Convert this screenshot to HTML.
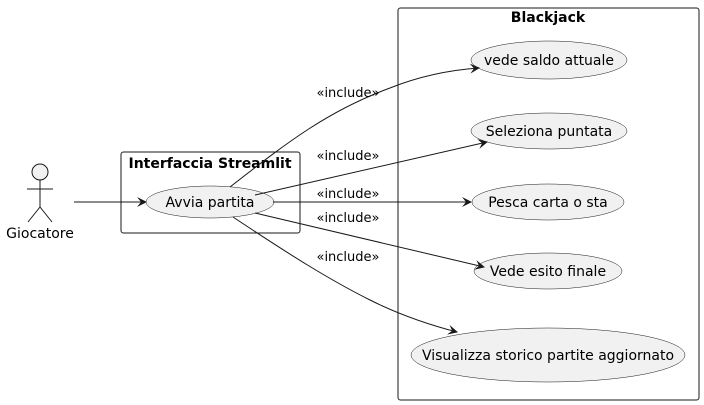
<!DOCTYPE html>
<html><head><meta charset="utf-8"><style>html,body{margin:0;padding:0;background:#fff}svg{display:block}text{font-family:"DejaVu Sans",sans-serif;fill:#000}</style></head>
<body>
<svg width="704" height="405" viewBox="0 0 704 405" xmlns="http://www.w3.org/2000/svg">
<defs><marker id="a" viewBox="0 0 10 10" refX="9" refY="5" markerWidth="10" markerHeight="10" orient="auto" markerUnits="userSpaceOnUse"><path d="M0,0 L10,5 L0,10 L4,5 Z" fill="#181818"/></marker></defs>
<rect x="121" y="152" width="179" height="81" rx="2.5" fill="none" stroke="#181818" stroke-width="1"/>
<text x="210" y="168" font-size="14" font-weight="bold" text-anchor="middle">Interfaccia Streamlit</text>
<rect x="398" y="8" width="301" height="392" rx="2.5" fill="none" stroke="#181818" stroke-width="1"/>
<text x="548" y="22" font-size="14" font-weight="bold" text-anchor="middle">Blackjack</text>
<circle cx="40" cy="172" r="8" fill="#f1f1f1" stroke="#181818"/>
<line x1="40" y1="180" x2="40" y2="207" stroke="#181818"/>
<line x1="27" y1="189" x2="53" y2="189" stroke="#181818"/>
<path d="M28,222 L40,207 L52,222" fill="none" stroke="#181818"/>
<text x="40" y="238" font-size="14" text-anchor="middle">Giocatore</text>
<line x1="74" y1="202" x2="146" y2="202" stroke="#181818" marker-end="url(#a)"/>
<ellipse cx="210" cy="202" rx="64" ry="16" fill="#f1f1f1" stroke="#181818" stroke-width="0.5"/>
<text x="210" y="207" font-size="14" text-anchor="middle">Avvia partita</text>
<ellipse cx="549" cy="60" rx="78" ry="19" fill="#f1f1f1" stroke="#181818" stroke-width="0.5"/>
<text x="549" y="65" font-size="14" text-anchor="middle">vede saldo attuale</text>
<ellipse cx="549" cy="131" rx="78" ry="18" fill="#f1f1f1" stroke="#181818" stroke-width="0.5"/>
<text x="549" y="136" font-size="14" text-anchor="middle">Seleziona puntata</text>
<ellipse cx="548" cy="202" rx="76" ry="18" fill="#f1f1f1" stroke="#181818" stroke-width="0.5"/>
<text x="548" y="207" font-size="14" text-anchor="middle">Pesca carta o sta</text>
<ellipse cx="548" cy="271" rx="74" ry="18" fill="#f1f1f1" stroke="#181818" stroke-width="0.5"/>
<text x="548" y="276" font-size="14" text-anchor="middle">Vede esito finale</text>
<ellipse cx="548" cy="355" rx="137" ry="27" fill="#f1f1f1" stroke="#181818" stroke-width="0.5"/>
<text x="548" y="360" font-size="14" text-anchor="middle">Visualizza storico partite aggiornato</text>
<path d="M230,187 C290,140 330,110 390,88 C420,76 450,70 479,68" fill="none" stroke="#181818" marker-end="url(#a)"/>
<path d="M255,195 L487,142" fill="none" stroke="#181818" marker-end="url(#a)"/>
<path d="M273,202 L471,202" fill="none" stroke="#181818" marker-end="url(#a)"/>
<path d="M255,213 L484,267" fill="none" stroke="#181818" marker-end="url(#a)"/>
<path d="M233,217 C290,255 330,280 370,300 C400,315 430,325 457,332" fill="none" stroke="#181818" marker-end="url(#a)"/>
<text x="348" y="97" font-size="13" text-anchor="middle">«include»</text>
<text x="348" y="160" font-size="13" text-anchor="middle">«include»</text>
<text x="348" y="198" font-size="13" text-anchor="middle">«include»</text>
<text x="348" y="222" font-size="13" text-anchor="middle">«include»</text>
<text x="348" y="261" font-size="13" text-anchor="middle">«include»</text>
</svg>
</body></html>
